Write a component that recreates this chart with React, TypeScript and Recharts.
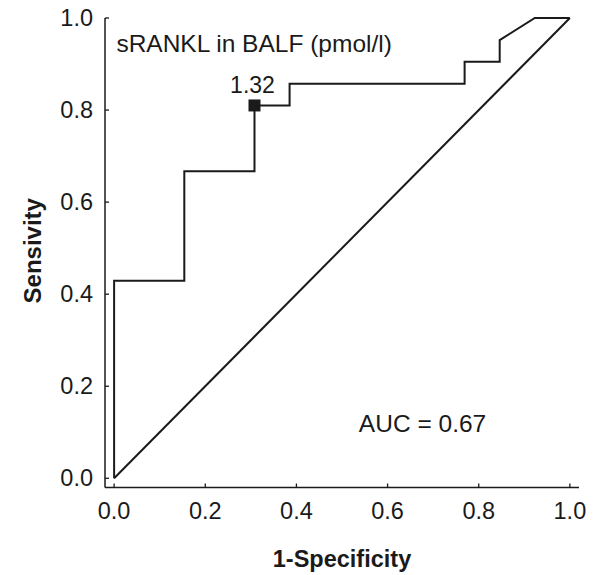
import React from "react";
import {
  ComposedChart,
  Line,
  Scatter,
  XAxis,
  YAxis,
  ReferenceDot,
} from "recharts";

// ROC: sRANKL in BALF. x = 1-Specificity, y = Sensitivity
const rocX = [0, 0, 0.154, 0.154, 0.308, 0.308, 0.385, 0.385, 0.769, 0.769, 0.846, 0.846, 0.923, 1.0];
const rocY = [0, 0.429, 0.429, 0.667, 0.667, 0.81, 0.81, 0.857, 0.857, 0.905, 0.905, 0.952, 1.0, 1.0];
const diagX = [0, 1];
const diagY = [0, 1];

// cut-off point marked on the curve
const cutX = [0.308];
const cutY = [0.81];
const cutLabel = ["1.32"];

const ticks = [0, 0.2, 0.4, 0.6, 0.8, 1.0];

const roc = rocX.map((x, i) => ({ x, y: rocY[i] }));
const diag = diagX.map((x, i) => ({ x, y: diagY[i] }));
const cut = cutX.map((x, i) => ({ x, y: cutY[i], label: cutLabel[i] }));

const FONT = '"Liberation Sans", Arial, Helvetica, sans-serif';
const INK = "#1a1a1a";

// eslint-disable-next-line @typescript-eslint/no-explicit-any
const XTick = (props: any) => {
  const { x, y, payload } = props;
  return (
    <g>
      <line x1={x} y1={y} x2={x} y2={y - 4} stroke={INK} strokeWidth={1.3} />
      <text x={x} y={y + 31} textAnchor="middle" fontSize={23.5} fontFamily={FONT} fill={INK}>
        {payload.value.toFixed(1)}
      </text>
    </g>
  );
};

// eslint-disable-next-line @typescript-eslint/no-explicit-any
const YTick = (props: any) => {
  const { x, y, payload } = props;
  return (
    <g>
      <line x1={x} y1={y} x2={x + 4} y2={y} stroke={INK} strokeWidth={1.3} />
      <text x={x - 12} y={y + 8} textAnchor="end" fontSize={23.5} fontFamily={FONT} fill={INK}>
        {payload.value.toFixed(1)}
      </text>
    </g>
  );
};

// eslint-disable-next-line @typescript-eslint/no-explicit-any
const CutShape = (props: any) => {
  const { cx, cy, payload } = props;
  return (
    <g>
      <rect x={cx - 6} y={cy - 6} width={12} height={12} fill={INK} />
      <text x={cx - 2} y={cy - 12} textAnchor="middle" fontSize={23} fontFamily={FONT} fill={INK}>
        {payload.label}
      </text>
    </g>
  );
};

// eslint-disable-next-line @typescript-eslint/no-explicit-any
const note = (txt: string) => (props: any) => (
  <text x={props.cx} y={props.cy} fontSize={24.5} fontFamily={FONT} fill={INK}>
    {txt}
  </text>
);

export default function App() {
  return (
    <div style={{ position: "absolute", left: 0, top: 0, background: "#fff" }}>
      <ComposedChart width={595} height={575} margin={{ top: 18, right: 16, left: 0, bottom: 0 }}>
        <XAxis
          dataKey="x"
          type="number"
          domain={[-0.02, 1.02]}
          ticks={ticks}
          height={87.5}
          tickSize={0}
          tickMargin={0}
          tickLine={false}
          tick={<XTick />}
          axisLine={{ stroke: INK, strokeWidth: 1.5 }}
          label={{
            // eslint-disable-next-line @typescript-eslint/no-explicit-any
            content: (p: any) => (
              <text
                x={p.viewBox.x + p.viewBox.width / 2}
                y={p.viewBox.y + 79}
                textAnchor="middle"
                fontSize={23.5}
                fontWeight="bold"
                fontFamily={FONT}
                fill={INK}
              >
                1-Specificity
              </text>
            ),
          }}
        />
        <YAxis
          dataKey="y"
          type="number"
          domain={[-0.02, 1]}
          ticks={ticks}
          width={105}
          tickSize={0}
          tickMargin={0}
          tickLine={false}
          tick={<YTick />}
          axisLine={{ stroke: INK, strokeWidth: 1.5 }}
          label={{
            // eslint-disable-next-line @typescript-eslint/no-explicit-any
            content: (p: any) => {
              const cy = p.viewBox.y + p.viewBox.height / 2 - 2;
              return (
                <text
                  x={41}
                  y={cy}
                  transform={`rotate(-90 41 ${cy})`}
                  textAnchor="middle"
                  fontSize={24}
                  fontWeight="bold"
                  fontFamily={FONT}
                  fill={INK}
                >
                  Sensivity
                </text>
              );
            },
          }}
        />
        <Line
          data={diag}
          dataKey="y"
          type="linear"
          stroke={INK}
          strokeWidth={2}
          dot={false}
          activeDot={false}
          isAnimationActive={false}
        />
        <Line
          data={roc}
          dataKey="y"
          type="linear"
          stroke={INK}
          strokeWidth={2}
          dot={false}
          activeDot={false}
          isAnimationActive={false}
        />
        <Scatter data={cut} dataKey="y" shape={<CutShape />} isAnimationActive={false} />
        <ReferenceDot x={0.005} y={0.927} r={0} ifOverflow="visible" shape={note("sRANKL in BALF (pmol/l)")} />
        <ReferenceDot x={0.537} y={0.1} r={0} ifOverflow="visible" shape={note("AUC = 0.67")} />
      </ComposedChart>
    </div>
  );
}
